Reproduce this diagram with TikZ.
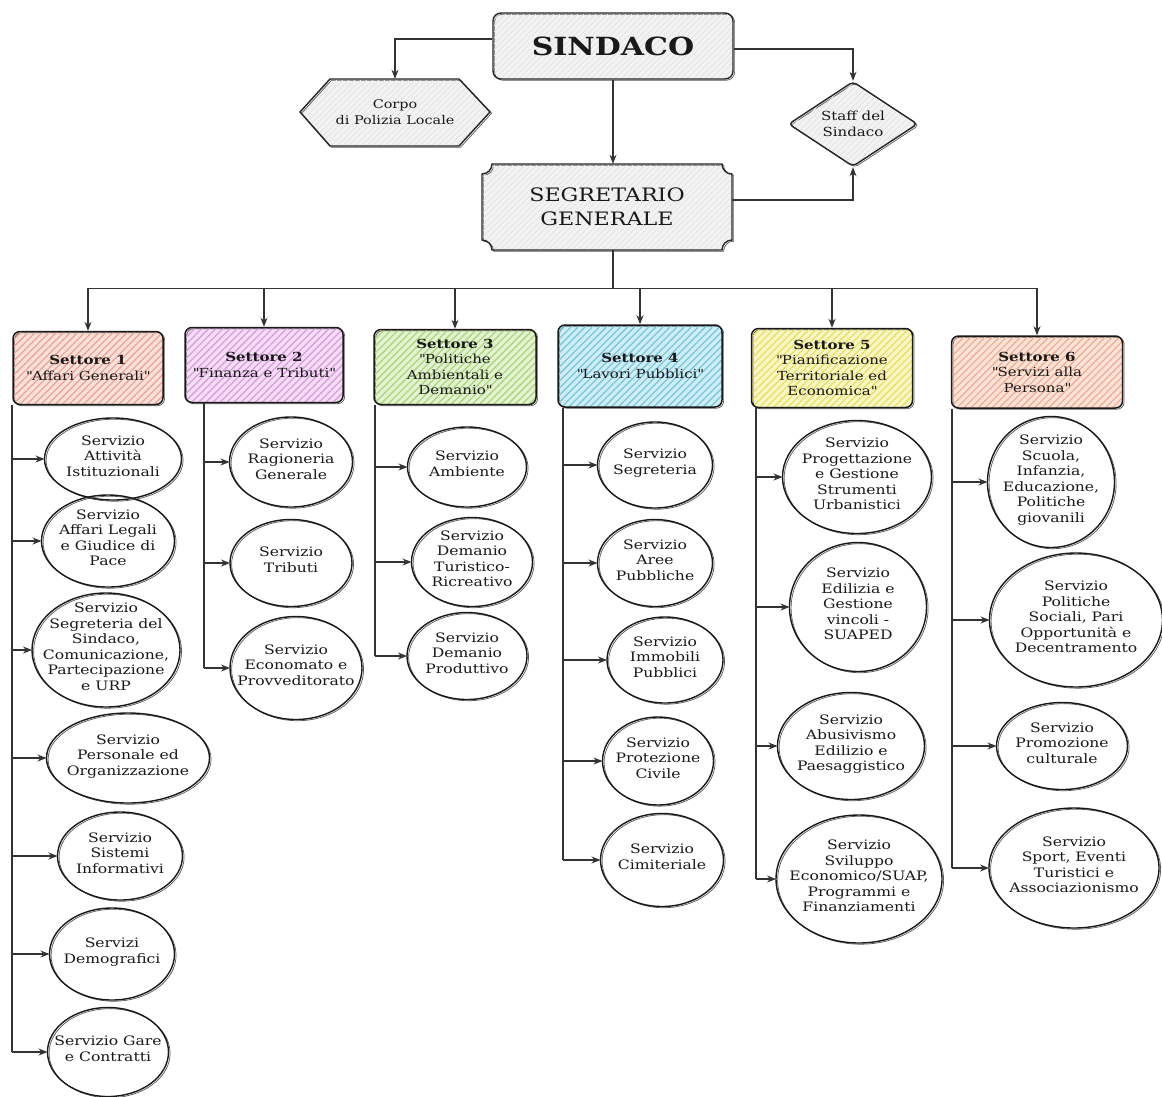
\documentclass[tikz,border=0pt]{standalone}
\usepackage{fontspec}
\setmainfont[FakeStretch=1.2]{DejaVu Serif}
\usetikzlibrary{shapes.geometric,arrows.meta,patterns.meta}
\newcommand{\svfont}{\fontsize{13}{15.5}\selectfont}
\newcommand{\hdfont}{\fontsize{12.5}{15.5}\selectfont}
\newcommand{\qq}{\textquotedbl}
\newcommand{\svtxt}[1]{\raisebox{-0.25em}{\smash{\makebox[0pt]{\begin{tabular}{@{}c@{}}#1\end{tabular}}}}}
\definecolor{cA}{HTML}{EC9A88}
\definecolor{cB}{HTML}{D890DE}
\definecolor{cC}{HTML}{A3D36A}
\definecolor{cD}{HTML}{66C2DC}
\definecolor{cE}{HTML}{E6DF48}
\definecolor{cF}{HTML}{F0A584}
\tikzset{
  conn/.style={draw=black!80, line width=1.1pt},
  arr/.style={conn, -{Stealth[length=9pt,width=7pt]}},
  sketch/.style={preaction={draw=black!65, line width=0.7pt, transform canvas={shift={(1.6pt,-1.2pt)}}}},
  hatch/.style={preaction={fill=#1!30}, pattern={Lines[angle=45,distance=5pt,line width=1.3pt]}, pattern color=#1!90},
  graybox/.style={preaction={fill=gray!10}, pattern={Lines[angle=45,distance=4pt,line width=1pt]}, pattern color=gray!22, draw=black!85, line width=1.4pt},
  svc/.style={ellipse, draw=black!90, line width=1.4pt, inner sep=0pt, outer sep=0pt, font=\svfont, text=black!90, sketch},
  hdr/.style={rectangle, rounded corners=7pt, draw=black!90, line width=1.5pt, inner sep=0pt, align=center, font=\hdfont, text=black!90, hatch=#1, sketch},
}
\begin{document}
\begin{tikzpicture}[x=1pt,y=-1pt]
\fill[white] (0,0) rectangle (1162,1096);
\useasboundingbox (0,0) rectangle (1162,1096);

% top
\node[graybox, rounded corners=8pt, sketch, minimum width=240pt, minimum height=66pt, font=\fontsize{25}{30}\selectfont\bfseries, text=black!90] (sd) at (613,46) {SINDACO};
\draw[graybox, sketch] (300,112) -- (330,79) -- (459,79) -- (490,112) -- (459,146) -- (330,146) -- cycle;
\node[minimum width=160pt, minimum height=67pt, inner sep=0pt, align=center, font=\fontsize{12}{16}\selectfont, text=black!90] (hx) at (395,112.5) {Corpo\\di Polizia Locale};
\node[diamond, aspect=1.5, graybox, sketch, rounded corners=4pt, minimum width=129pt, minimum height=85pt, inner sep=0pt, align=center, font=\fontsize{12.5}{16}\selectfont, text=black!90] (st) at (853,124) {Staff del\\Sindaco};
\draw[graybox, sketch] (492,164) -- (722,164) arc[start angle=180, end angle=90, radius=10] -- (732,240) arc[start angle=270, end angle=180, radius=10] -- (492,250) arc[start angle=0, end angle=-90, radius=10] -- (482,174) arc[start angle=90, end angle=0, radius=10] -- cycle;
\node[minimum width=250pt, minimum height=86pt, inner sep=0pt, align=center, font=\fontsize{18.5}{24}\selectfont, text=black!90] (sg) at (607,207) {SEGRETARIO\\GENERALE};

\draw[arr] ([yshift=7pt]sd.west) -| (hx.north);
\draw[arr] ([yshift=-3pt]sd.east) -| (st.north);
\draw[arr] (sd.south) -- (sd.south |- sg.north);
\draw[arr] ([yshift=7pt]sg.east) -| (st.south);

% sectors
\node[hdr=cA, minimum width=150pt, minimum height=73pt] (s1) at (88,368) {\textbf{Settore 1}\\\qq Affari Generali\qq};
\node[hdr=cB, minimum width=158pt, minimum height=75pt] (s2) at (264,365) {\textbf{Settore 2}\\\qq Finanza e Tributi\qq};
\node[hdr=cC, minimum width=162pt, minimum height=75pt] (s3) at (455,367) {\textbf{Settore 3}\\\qq Politiche\\Ambientali e\\Demanio\qq};
\node[hdr=cD, minimum width=164pt, minimum height=82pt] (s4) at (640,366) {\textbf{Settore 4}\\\qq Lavori Pubblici\qq};
\node[hdr=cE, minimum width=161pt, minimum height=79pt] (s5) at (832,368) {\textbf{Settore 5}\\\qq Pianificazione\\Territoriale ed\\Economica\qq};
\node[hdr=cF, minimum width=171pt, minimum height=72pt] (s6) at (1037,372) {\textbf{Settore 6}\\\qq Servizi alla\\Persona\qq};

\draw[conn] (sd.south |- sg.south) -- ++(0,38) coordinate (bus);
\draw[conn] (s1.north |- bus) -- (s6.north |- bus);
\foreach \s in {s1,s2,s3,s4,s5,s6} \draw[arr] (\s.north |- bus) -- (\s.north);

% services sector 1
\node[svc, minimum width=137pt, minimum height=82pt] (a1) at (113,459) {\svtxt{Servizio\\Attività\\Istituzionali}};
\node[svc, minimum width=133pt, minimum height=92pt] (a2) at (108,541) {\svtxt{Servizio\\Affari Legali\\e Giudice di\\Pace}};
\node[svc, minimum width=148pt, minimum height=114pt] (a3) at (106,650) {\svtxt{Servizio\\Segreteria del\\Sindaco,\\Comunicazione,\\Partecipazione\\e URP}};
\node[svc, minimum width=163pt, minimum height=90pt] (a4) at (128,758) {\svtxt{Servizio\\Personale ed\\Organizzazione}};
\node[svc, minimum width=125pt, minimum height=88pt] (a5) at (120,856) {\svtxt{Servizio\\Sistemi\\Informativi}};
\node[svc, minimum width=125pt, minimum height=92pt] (a6) at (112,954) {\svtxt{Servizi\\Demografici}};
\node[svc, minimum width=121pt, minimum height=89pt] (a7) at (108,1052) {\svtxt{Servizio Gare\\e Contratti}};
% sector 2
\node[svc, minimum width=123pt, minimum height=90pt] (b1) at (291,462) {\svtxt{Servizio\\Ragioneria\\Generale}};
\node[svc, minimum width=122pt, minimum height=87pt] (b2) at (291,563) {\svtxt{Servizio\\Tributi}};
\node[svc, minimum width=132pt, minimum height=103pt] (b3) at (296,668) {\svtxt{Servizio\\Economato e\\Provveditorato}};
% sector 3
\node[svc, minimum width=119pt, minimum height=80pt] (c1) at (467,467) {\svtxt{Servizio\\Ambiente}};
\node[svc, minimum width=121pt, minimum height=89pt] (c2) at (472,562) {\svtxt{Servizio\\Demanio\\Turistico-\\Ricreativo}};
\node[svc, minimum width=120pt, minimum height=87pt] (c3) at (467,656) {\svtxt{Servizio\\Demanio\\Produttivo}};
% sector 4
\node[svc, minimum width=115pt, minimum height=86pt] (d1) at (655,465) {\svtxt{Servizio\\Segreteria}};
\node[svc, minimum width=115pt, minimum height=87pt] (d2) at (655,563) {\svtxt{Servizio\\Aree\\Pubbliche}};
\node[svc, minimum width=116pt, minimum height=86pt] (d3) at (665,660) {\svtxt{Servizio\\Immobili\\Pubblici}};
\node[svc, minimum width=111pt, minimum height=88pt] (d4) at (658,761) {\svtxt{Servizio\\Protezione\\Civile}};
\node[svc, minimum width=123pt, minimum height=93pt] (d5) at (662,860) {\svtxt{Servizio\\Cimiteriale}};
% sector 5
\node[svc, minimum width=149pt, minimum height=113pt] (e1) at (857,477) {\svtxt{Servizio\\Progettazione\\e Gestione\\Strumenti\\Urbanistici}};
\node[svc, minimum width=137pt, minimum height=129pt] (e2) at (858,607) {\svtxt{Servizio\\Edilizia e\\Gestione\\vincoli -\\SUAPED}};
\node[svc, minimum width=147pt, minimum height=107pt] (e3) at (851,746) {\svtxt{Servizio\\Abusivismo\\Edilizio e\\Paesaggistico}};
\node[svc, minimum width=166pt, minimum height=128pt] (e4) at (859,879) {\svtxt{Servizio\\Sviluppo\\Economico/SUAP,\\Programmi e\\Finanziamenti}};
% sector 6
\node[svc, minimum width=127pt, minimum height=131pt] (f1) at (1051,482) {\svtxt{Servizio\\Scuola,\\Infanzia,\\Educazione,\\Politiche\\giovanili}};
\node[svc, minimum width=173pt, minimum height=134pt] (f2) at (1076,620) {\svtxt{Servizio\\Politiche\\Sociali, Pari\\Opportunità e\\Decentramento}};
\node[svc, minimum width=131pt, minimum height=87pt] (f3) at (1062,746) {\svtxt{Servizio\\Promozione\\culturale}};
\node[svc, minimum width=170pt, minimum height=120pt] (f4) at (1074,868) {\svtxt{Servizio\\Sport, Eventi\\Turistici e\\Associazionismo}};

% spines
\coordinate (p1) at (12,0);
\coordinate (p2) at (204,0);
\coordinate (p3) at (375,0);
\coordinate (p4) at (563,0);
\coordinate (p5) at (756,0);
\coordinate (p6) at (952,0);
\draw[conn] (p1 |- s1.south) -- (p1 |- a7.west);
\draw[conn] (p2 |- s2.south) -- (p2 |- b3.west);
\draw[conn] (p3 |- s3.south) -- (p3 |- c3.west);
\draw[conn] (p4 |- s4.south) -- (p4 |- d5.west);
\draw[conn] (p5 |- s5.south) -- (p5 |- e4.west);
\draw[conn] (p6 |- s6.south) -- (p6 |- f4.west);
\foreach \n in {a1,a2,a3,a4,a5,a6,a7} \draw[arr] (p1 |- \n.west) -- (\n.west);
\foreach \n in {b1,b2,b3} \draw[arr] (p2 |- \n.west) -- (\n.west);
\foreach \n in {c1,c2,c3} \draw[arr] (p3 |- \n.west) -- (\n.west);
\foreach \n in {d1,d2,d3,d4,d5} \draw[arr] (p4 |- \n.west) -- (\n.west);
\foreach \n in {e1,e2,e3,e4} \draw[arr] (p5 |- \n.west) -- (\n.west);
\foreach \n in {f1,f2,f3,f4} \draw[arr] (p6 |- \n.west) -- (\n.west);
\end{tikzpicture}
\end{document}
